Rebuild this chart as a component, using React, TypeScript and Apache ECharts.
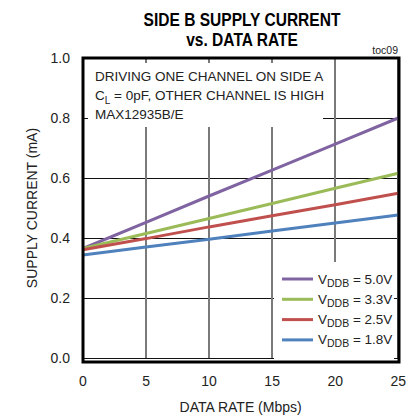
import React, { useEffect, useRef } from "react";
import * as echarts from "echarts";

const dataRate = [0, 5, 10, 15, 20, 25];
const vddbLabels = ["5.0V", "3.3V", "2.5V", "1.8V"];
const current50 = [0.365, 0.452, 0.54, 0.626, 0.713, 0.8];
const current33 = [0.365, 0.415, 0.465, 0.515, 0.566, 0.616];
const current25 = [0.361, 0.398, 0.437, 0.474, 0.511, 0.549];
const current18 = [0.343, 0.37, 0.396, 0.423, 0.45, 0.477];
const seriesValues = [current50, current33, current25, current18];
const colors = ["#8064a2", "#9bbb59", "#c0504d", "#4f81bd"];
const yTicks = [0, 0.2, 0.4, 0.6, 0.8, 1.0];
const xTicks = [0, 5, 10, 15, 20, 25];

const FONT = "'Liberation Sans', Arial, sans-serif";

const G = { left: 83, top: 58, width: 316, height: 304 };

export default function App() {
  const ref = useRef<HTMLDivElement>(null);
  useEffect(() => {
    if (!ref.current) return;
    const chart = echarts.init(ref.current, undefined, { renderer: "svg" });
    const series = vddbLabels.map((lab, i) => ({
      name: lab,
      type: "line",
      data: dataRate.map((x, j) => [x, seriesValues[i][j]]),
      showSymbol: false,
      symbol: "none",
      lineStyle: { color: colors[i], width: 3 },
      itemStyle: { color: colors[i] },
      z: 2,
    }));
    chart.setOption({
      animation: false,
      backgroundColor: "#fff",
      grid: { ...G, containLabel: false },
      xAxis: {
        type: "value",
        min: xTicks[0],
        max: xTicks[xTicks.length - 1],
        interval: 5,
        name: "DATA RATE (Mbps)",
        nameLocation: "middle",
        nameGap: 42,
        nameTextStyle: { fontFamily: FONT, fontSize: 14, color: "#222" },
        axisLine: { show: false },
        axisTick: { show: false },
        axisLabel: { fontFamily: FONT, fontSize: 14, color: "#222", margin: 16 },
        splitLine: { show: true, lineStyle: { color: "#7a7a7a", width: 2 } },
      },
      yAxis: {
        type: "value",
        min: yTicks[0],
        max: yTicks[yTicks.length - 1],
        interval: 0.2,
        name: "SUPPLY CURRENT (mA)",
        nameLocation: "middle",
        nameGap: 44,
        nameTextStyle: { fontFamily: FONT, fontSize: 14, color: "#222" },
        axisLine: { show: false },
        axisTick: { show: false },
        axisLabel: {
          fontFamily: FONT,
          fontSize: 14,
          color: "#222",
          margin: 13,
          formatter: (v: number) => v.toFixed(1),
        },
        splitLine: { show: true, lineStyle: { color: "#111", width: 1.2 } },
      },
      legend: {
        orient: "vertical",
        left: 277,
        top: 265,
        z: 20,
        icon: "rect",
        itemWidth: 31,
        itemHeight: 3,
        itemGap: 2.3,
        data: vddbLabels,
        formatter: (name: string) => `{v|V}{s|DDB}{t| = ${name}}`,
        textStyle: {
          fontFamily: FONT,
          color: "#222",
          rich: {
            v: { fontFamily: FONT, fontSize: 13.5, lineHeight: 18, color: "#222" },
            s: { fontFamily: FONT, fontSize: 10.5, lineHeight: 18, color: "#222", verticalAlign: "bottom", padding: [7, 0, 0, 0] },
            t: { fontFamily: FONT, fontSize: 13.5, lineHeight: 18, color: "#222" },
          },
        },
      },
      graphic: [
        {
          type: "rect",
          z: 5,
          silent: true,
          shape: { x: 88, y: 63, width: 235, height: 64 },
          style: { fill: "#fff" },
        },
        {
          type: "rect",
          z: 5,
          silent: true,
          shape: { x: 274, y: 262, width: 120, height: 99 },
          style: { fill: "#fff" },
        },
        {
          type: "rect",
          z: 30,
          silent: true,
          shape: { x: G.left, y: G.top, width: G.width, height: G.height },
          style: { fill: "none", stroke: "#000", lineWidth: 3 },
        },
        {
          type: "text",
          z: 30,
          x: 242,
          y: 10,
          scaleX: 0.84,
          style: {
            text: "SIDE B SUPPLY CURRENT\nvs. DATA RATE",
            fontFamily: FONT,
            fontWeight: "bold",
            fontSize: 18.5,
            lineHeight: 20,
            fill: "#000",
            align: "center",
            verticalAlign: "top",
          },
        },
        {
          type: "text",
          z: 30,
          x: 398,
          y: 50,
          style: {
            text: "toc09",
            fontFamily: FONT,
            fontSize: 10.5,
            fill: "#222",
            align: "right",
            verticalAlign: "middle",
          },
        },
        {
          type: "text",
          z: 30,
          x: 95,
          y: 67,
          style: {
            text: "{t|DRIVING ONE CHANNEL ON SIDE A}\n{t|C}{s|L}{t| = 0pF, OTHER CHANNEL IS HIGH}\n{t|MAX12935B/E}",
            fontFamily: FONT,
            fill: "#222",
            align: "left",
            verticalAlign: "top",
            rich: {
              t: { fontFamily: FONT, fontSize: 13.5, lineHeight: 19, fill: "#222" },
              s: { fontFamily: FONT, fontSize: 10, lineHeight: 19, fill: "#222", verticalAlign: "bottom", padding: [6, 0, 0, 0] },
            },
          },
        },
      ],
      series,
    });
    return () => chart.dispose();
  }, []);
  return <div ref={ref} style={{ width: 409, height: 419, position: "absolute", left: 0, top: 0 }} />;
}
